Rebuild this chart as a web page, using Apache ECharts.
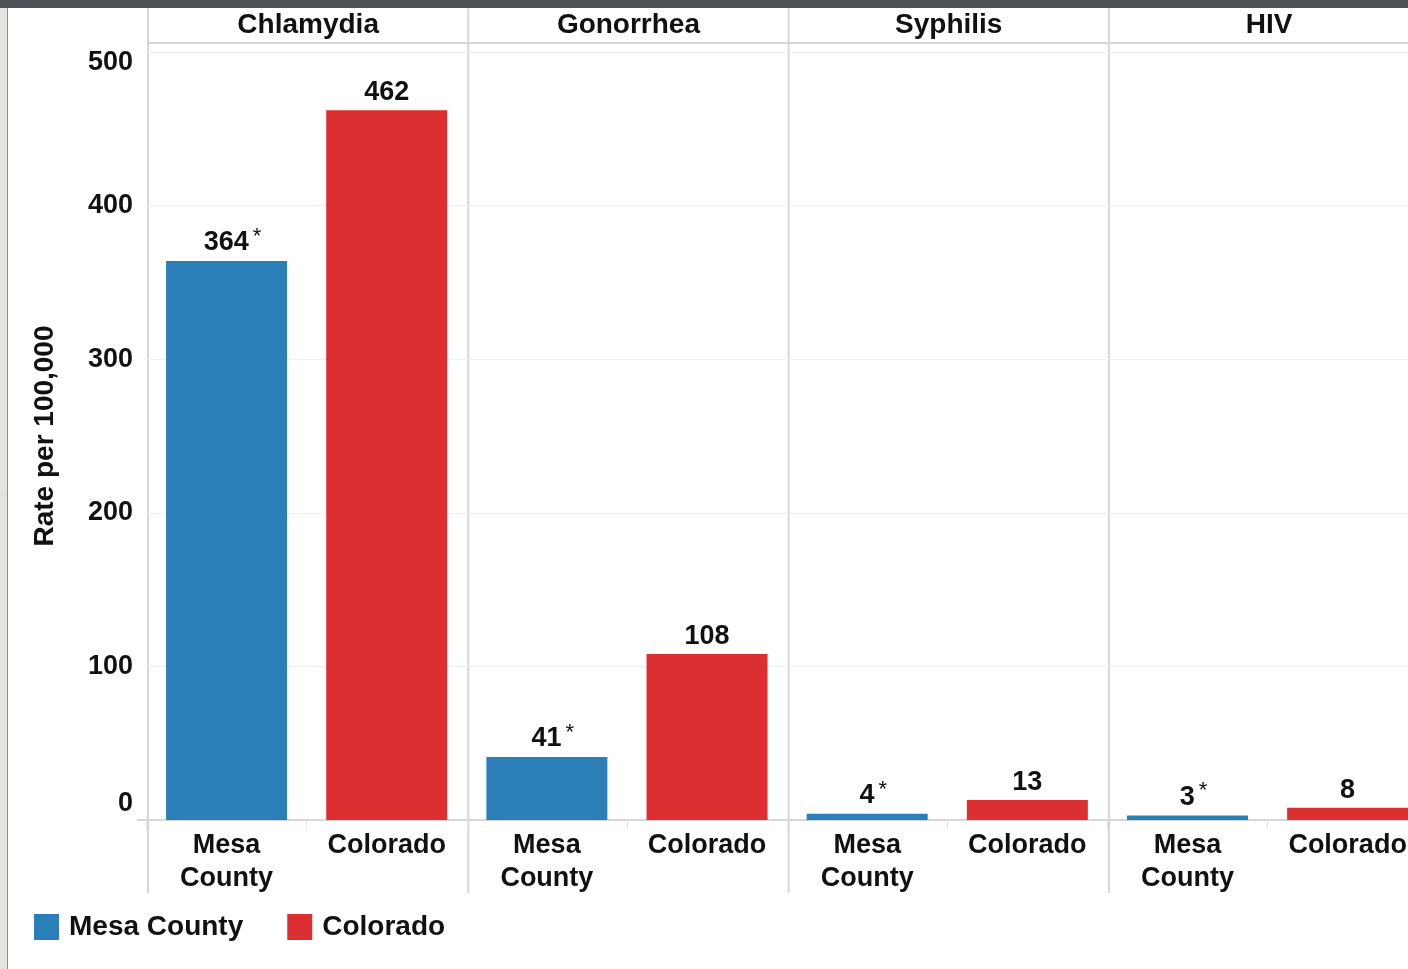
<!DOCTYPE html>
<html>
<head>
<meta charset="utf-8">
<script src="https://cdn.jsdelivr.net/npm/echarts@6/dist/echarts.min.js"></script>
<style>
  html, body { margin: 0; padding: 0; background: #fff; overflow: hidden; }
  /* the last facet runs past the right edge in the original, so the canvas is wider than the window */
  #chart { width: 1440px; height: 969px; }
</style>
</head>
<body>
<div id="chart"></div>
<script>
// data
const diseases = ['Chlamydia', 'Gonorrhea', 'Syphilis', 'HIV']
const categories = ['Mesa County', 'Colorado']
const mesaRates = [364, 41, 4, 3]
const coloradoRates = [462, 108, 13, 8]
const mesaSignificant = [true, true, true, true]
const yTicks = [0, 100, 200, 300, 400, 500]

const FONT = '"Liberation Sans", Arial, sans-serif'
const BLUE = '#2a7fb8'
const RED = '#db2f32'
const LINE = '#d6d6d6'

// facet layout
const facetLeft = 148
const facetWidth = 320.3
const plotTop = 52
const plotBottom = 820
const facetBottom = 893

const chart = echarts.init(document.getElementById('chart'))

const grids = diseases.map((d, i) => ({
  left: facetLeft - 1.5 + i * facetWidth,
  width: facetWidth,
  top: plotTop,
  height: plotBottom - plotTop
}))

const xAxes = diseases.map((d, i) => ({
  type: 'category',
  gridIndex: i,
  data: categories,
  axisLine: { lineStyle: { color: LINE, width: 2 } },
  axisTick: { show: true, length: 10, lineStyle: { color: '#e6e6e6' } },
  axisLabel: {
    formatter: v => v.replace(' ', '\n'),
    fontFamily: FONT,
    fontSize: 27,
    fontWeight: 'bold',
    color: '#111',
    lineHeight: 33,
    margin: 9
  }
}))

const yAxes = diseases.map((d, i) => ({
  type: 'value',
  gridIndex: i,
  min: yTicks[0],
  max: yTicks[yTicks.length - 1],
  interval: 100,
  name: i === 0 ? 'Rate per 100,000' : '',
  nameLocation: 'middle',
  nameRotate: 90,
  nameGap: 87,
  nameTextStyle: { fontFamily: FONT, fontSize: 28, fontWeight: 'bold', color: '#111' },
  axisLine: { show: false },
  axisTick: { show: false },
  splitLine: { lineStyle: { color: '#eeeeee', width: 1 } },
  axisLabel: {
    show: i === 0,
    margin: 13.5,
    formatter: v => {
      // end labels sit inside the range, like the original
      if (v === 0) return '{lo|0}'
      if (v === 500) return '{hi|500}'
      return '{n|' + v + '}'
    },
    rich: {
      n: { fontFamily: FONT, fontSize: 27, fontWeight: 'bold', color: '#111' },
      lo: { fontFamily: FONT, fontSize: 27, fontWeight: 'bold', color: '#111', padding: [0, 0, 32, 0] },
      hi: { fontFamily: FONT, fontSize: 27, fontWeight: 'bold', color: '#111', padding: [22, 0, 0, 0] }
    }
  }
}))

const valueRich = {
  p: { width: 12 },
  v: { fontFamily: FONT, fontSize: 27, fontWeight: 'bold', color: '#111' },
  s: { fontFamily: FONT, fontSize: 22, color: '#111', padding: [0, 0, 12, 4] }
}

const series = []
diseases.forEach((d, i) => {
  series.push({
    name: 'Mesa County',
    type: 'bar',
    xAxisIndex: i,
    yAxisIndex: i,
    barWidth: 121,
    barGap: '-100%',
    data: [mesaRates[i], '-'],
    itemStyle: { color: BLUE },
    label: {
      show: true,
      position: 'top',
      distance: 1,
      formatter: p => mesaSignificant[i] ? '{p|}{v|' + p.value + '}{s|*}' : '{v|' + p.value + '}',
      rich: valueRich
    }
  })
  series.push({
    name: 'Colorado',
    type: 'bar',
    xAxisIndex: i,
    yAxisIndex: i,
    barWidth: 121,
    barGap: '-100%',
    data: ['-', coloradoRates[i]],
    itemStyle: { color: RED },
    label: {
      show: true,
      position: 'top',
      distance: 4,
      formatter: p => '{v|' + p.value + '}',
      rich: valueRich
    }
  })
})

// frame, facet dividers and facet headers
const graphics = [
  { type: 'rect', shape: { x: 0, y: 0, width: 1440, height: 8 }, style: { fill: '#4d5158' } },
  { type: 'rect', shape: { x: 0, y: 8, width: 7, height: 961 }, style: { fill: '#e3e3df' } },
  { type: 'line', shape: { x1: 7.5, y1: 8, x2: 7.5, y2: 969 }, style: { stroke: '#8c8c8c', lineWidth: 1 } },
  { type: 'line', shape: { x1: facetLeft, y1: 43, x2: 1440, y2: 43 }, style: { stroke: LINE, lineWidth: 2 } },
  { type: 'line', shape: { x1: 137, y1: plotBottom, x2: facetLeft, y2: plotBottom }, style: { stroke: LINE, lineWidth: 2 } }
]
diseases.forEach((d, i) => {
  const x = facetLeft + i * facetWidth
  graphics.push({
    type: 'line',
    shape: { x1: x, y1: 8, x2: x, y2: facetBottom },
    style: { stroke: LINE, lineWidth: 2 }
  })
  graphics.push({
    type: 'text',
    x: x + facetWidth / 2,
    y: 25,
    style: {
      text: d,
      fontFamily: FONT,
      fontSize: 28,
      fontWeight: 'bold',
      fill: '#111',
      align: 'center',
      verticalAlign: 'middle'
    }
  })
})

chart.setOption({
  animation: false,
  grid: grids,
  xAxis: xAxes,
  yAxis: yAxes,
  series: series,
  legend: {
    data: categories,
    left: 34,
    top: 913,
    padding: 0,
    icon: 'rect',
    itemWidth: 25,
    itemHeight: 26,
    itemGap: 44,
    textStyle: { fontFamily: FONT, fontSize: 28, fontWeight: 'bold', color: '#111', padding: [0, 0, 0, 5] }
  },
  graphic: graphics
})
</script>
</body>
</html>
